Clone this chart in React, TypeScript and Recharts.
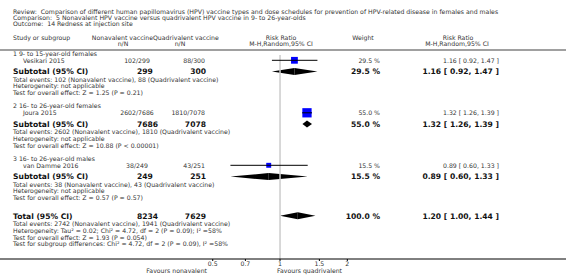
import {
  ComposedChart,
  ErrorBar,
  ReferenceArea,
  ReferenceLine,
  Scatter,
  XAxis,
  YAxis,
} from 'recharts';

// study level data
const GROUPS = [
  '1 9- to 15-year-old females',
  '2 16- to 26-year-old females',
  '3 16- to 26-year-old males',
];
const STUDY_NAMES = ['Vesikari 2015', 'Joura 2015', 'van Damme 2016'];
const NONA_EVENTS = [102, 2602, 38];
const NONA_TOTAL = [299, 7686, 249];
const QUAD_EVENTS = [88, 1810, 43];
const QUAD_TOTAL = [300, 7078, 251];
const WEIGHTS = [29.5, 55.0, 15.5];
const RR = [1.16, 1.32, 0.89];
const RR_LO = [0.92, 1.26, 0.6];
const RR_HI = [1.47, 1.39, 1.33];
const SUB_TEST = ['Z = 1.25 (P = 0.21)', 'Z = 10.88 (P < 0.00001)', 'Z = 0.57 (P = 0.57)'];

// pooled
const TOTAL_N = [8234, 7629];
const TOTAL_EVENTS = [2742, 1941];
const TOTAL_RR = [1.2, 1.0, 1.44];
const TOTAL_HET = 'Heterogeneity: Tau² = 0.02; Chi² = 4.72, df = 2 (P = 0.09); I² =58%';
const TOTAL_TEST = 'Test for overall effect: Z = 1.93 (P = 0.054)';
const SUBGROUP_TEST = 'Test for subgroup differences: Chi² = 4.72, df = 2 (P = 0.09), I² =58%';

const X_TICKS = [0.5, 0.7, 1, 1.5, 2];

// layout (pixels)
const W = 566;
const H = 276;
const AXIS_Y = 259;
const GROUP_Y = [53.3, 105.8, 158.3];
const TOTAL_Y = 216.7;
const LINE = 6.75;

const f2 = (v: number) => v.toFixed(2);
const ci = (e: number, l: number, h: number) => `${f2(e)} [ ${f2(l)}, ${f2(h)} ]`;

const studyData = STUDY_NAMES.map((_, i) => ({
  x: RR[i],
  y: GROUP_Y[i] + 7,
  weight: WEIGHTS[i],
  err: [RR[i] - RR_LO[i], RR_HI[i] - RR[i]],
}));

const diamonds = [
  ...STUDY_NAMES.map((_, i) => ({ est: RR[i], lo: RR_LO[i], hi: RR_HI[i], y: GROUP_Y[i] + 18.3 })),
  { est: TOTAL_RR[0], lo: TOTAL_RR[1], hi: TOTAL_RR[2], y: TOTAL_Y - 1 },
];

const StudySquare = (props: any) => {
  const { cx, cy, payload } = props;
  const s = 1.25 * Math.sqrt(payload.weight);
  return (
    <g>
      <rect x={cx - s / 2} y={cy - s / 2} width={s} height={s} fill="#0000ff" />
      <line x1={cx - s / 2} x2={cx + s / 2} y1={cy} y2={cy} stroke="#000" strokeWidth={1} />
    </g>
  );
};

const LeftHalf = ({ x, y, width, height }: any) => (
  <polygon
    points={`${x},${y + height / 2} ${x + width},${y} ${x + width},${y + height}`}
    fill="#000"
  />
);

const RightHalf = ({ x, y, width, height }: any) => (
  <polygon
    points={`${x},${y} ${x + width},${y + height / 2} ${x},${y + height}`}
    fill="#000"
  />
);

const FONT = 'DejaVu Sans';
const SMALL = 6.2;
const BOLD = 7.6;

const T = ({ x, y, children, anchor = 'start', bold = false, size }: any) => (
  <text
    x={x}
    y={y}
    textAnchor={anchor}
    dominantBaseline="central"
    fontFamily={FONT}
    fontSize={size ?? (bold ? BOLD : SMALL)}
    fontWeight={bold ? 'bold' : 'normal'}
    fill={bold ? '#111' : '#333'}
    style={{ whiteSpace: 'pre' }}
  >
    {children}
  </text>
);

const Labels = () => (
  <svg
    width={W}
    height={H}
    style={{ position: 'absolute', left: 0, top: 0, pointerEvents: 'none' }}
  >
    <T x={13} y={11.7}>Review:  Comparison of different human papillomavirus (HPV) vaccine types and dose schedules for prevention of HPV-related disease in females and males</T>
    <T x={13} y={17.7}>Comparison:  5 Nonavalent HPV vaccine versus quadrivalent HPV vaccine in 9- to 26-year-olds</T>
    <T x={13} y={23.7}>Outcome:  14 Redness at injection site</T>

    <T x={13} y={37.7}>Study or subgroup</T>
    <T x={153} y={37.7} anchor="end">Nonavalent vaccine</T>
    <T x={123} y={43.3} anchor="middle">n/N</T>
    <T x={153} y={37.7}>Quadrivalent vaccine</T>
    <T x={180} y={43.3} anchor="middle">n/N</T>
    <T x={281} y={37.7} anchor="middle">Risk Ratio</T>
    <T x={281} y={43.3} anchor="middle">M-H,Random,95% CI</T>
    <T x={363} y={37.7} anchor="middle">Weight</T>
    <T x={458} y={37.7} anchor="middle">Risk Ratio</T>
    <T x={457} y={43.3} anchor="middle">M-H,Random,95% CI</T>
    <line x1={0} x2={W} y1={50} y2={50} stroke="#a0a0a0" strokeWidth={1.8} />

    {GROUPS.map((g, i) => {
      const y0 = GROUP_Y[i];
      const ys = y0 + 7;
      const yb = y0 + 18.3;
      return (
        <g key={g}>
          <T x={13} y={y0}>{g}</T>
          <T x={23} y={ys}>{STUDY_NAMES[i]}</T>
          <T x={137} y={ys} anchor="middle">{`${NONA_EVENTS[i]}/${NONA_TOTAL[i]}`}</T>
          <T x={205} y={ys} anchor="end">{`${QUAD_EVENTS[i]}/${QUAD_TOTAL[i]}`}</T>
          <T x={380} y={ys} anchor="end">{`${WEIGHTS[i].toFixed(1)} %`}</T>
          <T x={499} y={ys} anchor="end">{ci(RR[i], RR_LO[i], RR_HI[i])}</T>

          <T x={13} y={yb} bold>Subtotal (95% CI)</T>
          <T x={137} y={yb} bold>{NONA_TOTAL[i]}</T>
          <T x={206} y={yb} anchor="end" bold>{QUAD_TOTAL[i]}</T>
          <T x={380} y={yb} anchor="end" bold>{`${WEIGHTS[i].toFixed(1)} %`}</T>
          <T x={499} y={yb} anchor="end" bold>{ci(RR[i], RR_LO[i], RR_HI[i])}</T>
          <T x={13} y={yb + 7.4}>{`Total events: ${NONA_EVENTS[i]} (Nonavalent vaccine), ${QUAD_EVENTS[i]} (Quadrivalent vaccine)`}</T>
          <T x={13} y={yb + 7.4 + LINE}>Heterogeneity: not applicable</T>
          <T x={13} y={yb + 7.4 + 2 * LINE}>{`Test for overall effect: ${SUB_TEST[i]}`}</T>
        </g>
      );
    })}

    <T x={13} y={TOTAL_Y} bold>Total (95% CI)</T>
    <T x={137} y={TOTAL_Y} bold>{TOTAL_N[0]}</T>
    <T x={206} y={TOTAL_Y} anchor="end" bold>{TOTAL_N[1]}</T>
    <T x={380} y={TOTAL_Y} anchor="end" bold>100.0 %</T>
    <T x={499} y={TOTAL_Y} anchor="end" bold>{ci(TOTAL_RR[0], TOTAL_RR[1], TOTAL_RR[2])}</T>
    <T x={13} y={TOTAL_Y + 7}>{`Total events: ${TOTAL_EVENTS[0]} (Nonavalent vaccine), ${TOTAL_EVENTS[1]} (Quadrivalent vaccine)`}</T>
    <T x={13} y={TOTAL_Y + 7 + LINE}>{TOTAL_HET}</T>
    <T x={13} y={TOTAL_Y + 7 + 2 * LINE}>{TOTAL_TEST}</T>
    <T x={13} y={TOTAL_Y + 7 + 3 * LINE}>{SUBGROUP_TEST}</T>

    <T x={207} y={270} anchor="end">Favours nonavalent</T>
    <T x={277} y={270}>Favours quadrivalent</T>
  </svg>
);

export default function App() {
  return (
    <div style={{ position: 'relative', width: W, height: H, background: '#fff' }}>
      <style>{'body{margin:0}'}</style>
      <div style={{ position: 'absolute', left: 0, top: 0 }}>
        <ComposedChart width={W} height={H} margin={{ top: 0, right: 0, bottom: 0, left: 0 }}>
          <XAxis
            dataKey="x"
            type="number"
            scale="log"
            domain={[0.0559, 19.02]}
            allowDataOverflow
            ticks={X_TICKS}
            height={H - AXIS_Y}
            tickSize={2}
            tickMargin={1}
            stroke="#000"
            tick={{ fontSize: SMALL, fontFamily: FONT, fill: '#333' }}
            tickFormatter={(v: number) => String(v)}
          />
          <YAxis dataKey="y" type="number" domain={[0, AXIS_Y]} reversed hide />
          <ReferenceLine
            segment={[
              { x: 1, y: 55 },
              { x: 1, y: AXIS_Y },
            ]}
            stroke="#cccccc"
            strokeWidth={1.5}
          />
          {diamonds.map((d, i) => (
            <ReferenceArea
              key={`l${i}`}
              x1={d.lo}
              x2={d.est}
              y1={d.y - 3.5}
              y2={d.y + 3.5}
              shape={LeftHalf}
            />
          ))}
          {diamonds.map((d, i) => (
            <ReferenceArea
              key={`r${i}`}
              x1={d.est}
              x2={d.hi}
              y1={d.y - 3.5}
              y2={d.y + 3.5}
              shape={RightHalf}
            />
          ))}
          <Scatter data={studyData} shape={StudySquare} isAnimationActive={false}>
            <ErrorBar
              dataKey="err"
              direction="x"
              width={0}
              stroke="#000"
              strokeWidth={1}
              isAnimationActive={false}
            />
          </Scatter>
        </ComposedChart>
      </div>
      <Labels />
    </div>
  );
}
